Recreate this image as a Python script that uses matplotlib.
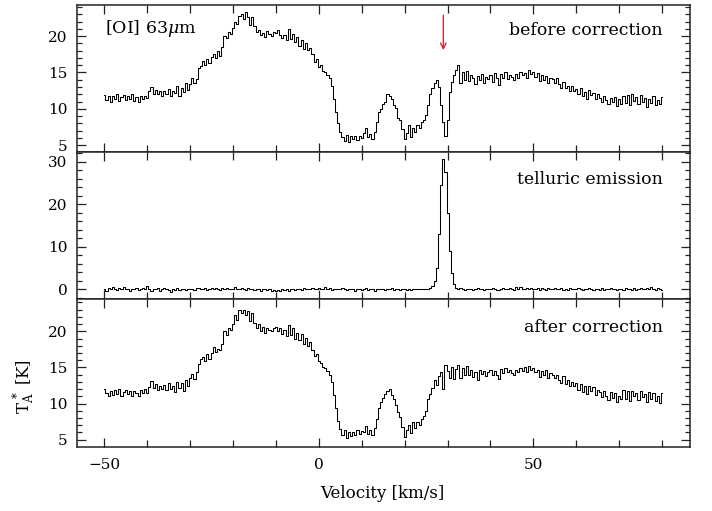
import numpy as np
import matplotlib
matplotlib.use('Agg')
import matplotlib.pyplot as plt
from matplotlib.ticker import MultipleLocator

# channel velocities (km/s), 0.5 km/s channels
velocity = np.arange(-50, 80.5, 0.5)

# [OI] 63um spectrum before correction (K)
before = [
    11.9, 11.2, 11.7, 11.0, 11.8, 11.3, 12.1, 11.1, 11.6, 11.9,
    11.2, 11.8, 11.3, 12.0, 11.1, 11.6, 10.9, 11.7, 11.3, 11.8,
    11.5, 12.4, 13.0, 12.1, 12.6, 12.0, 12.5, 11.8, 12.4, 12.1,
    12.7, 11.8, 12.5, 12.2, 13.1, 11.7, 12.8, 12.3, 13.5, 12.6,
    13.4, 14.3, 13.5, 14.1, 15.6, 15.9, 16.6, 16.0, 16.8, 16.3,
    17.2, 17.6, 17.0, 17.9, 17.3, 18.5, 20.0, 19.7, 20.6, 20.3,
    21.2, 22.0, 21.7, 22.8, 23.1, 22.4, 23.3, 22.6, 21.5, 22.7,
    21.4, 20.6, 20.9, 20.2, 20.5, 19.9, 20.7, 20.3, 20.0, 20.6,
    20.4, 20.8, 20.2, 19.7, 20.1, 19.5, 21.0, 19.6, 20.3, 19.2,
    19.9, 18.6, 19.5, 18.3, 19.0, 18.1, 18.4, 17.6, 16.5, 16.9,
    15.8, 16.1, 15.2, 15.0, 14.6, 14.2, 13.2, 11.4, 9.6, 8.0,
    6.8, 6.1, 5.6, 6.4, 5.4, 6.2, 5.8, 6.3, 5.7, 6.2,
    6.0, 6.6, 7.3, 6.1, 6.5, 5.9, 6.8, 8.2, 9.6, 10.0,
    10.6, 11.0, 12.1, 11.8, 11.4, 10.5, 10.1, 8.7, 8.4, 7.2,
    5.8, 6.6, 7.7, 6.1, 7.3, 6.8, 7.7, 7.3, 8.2, 8.4,
    9.1, 10.5, 12.1, 12.8, 13.5, 13.9, 13.0, 10.5, 8.2, 6.3,
    8.4, 12.3, 13.7, 14.6, 15.3, 16.0, 13.6, 15.1, 14.0, 15.2,
    13.8, 14.7, 14.2, 13.4, 14.5, 14.0, 14.8, 13.5, 14.4, 14.1,
    14.6, 13.7, 14.9, 14.2, 13.3, 14.8, 14.3, 15.0, 14.1, 14.7,
    14.4, 13.9, 14.8, 14.2, 15.1, 14.6, 14.9, 14.3, 15.3, 14.8,
    15.1, 14.4, 14.9, 13.8, 14.6, 14.0, 14.5, 13.6, 14.3, 14.1,
    13.5, 14.2, 13.4, 12.8, 13.7, 12.9, 13.1, 12.5, 13.2, 12.4,
    12.7, 12.0, 12.9, 11.7, 12.3, 11.4, 12.6, 11.9, 12.2, 11.3,
    12.0, 11.5, 11.0, 11.8, 11.2, 10.6, 11.5, 10.9, 11.6, 10.4,
    11.3, 10.6, 11.8, 10.8, 11.9, 10.5, 12.0, 11.1, 11.6, 10.7,
    11.9, 11.0, 11.5, 10.3, 11.4, 10.8, 11.7, 10.5, 11.2, 10.6,
    11.6,
]

# telluric emission spectrum (K)
telluric = [
    0.1, -0.3, 0.3, 0.0, 0.5, 0.1, -0.2, 0.3, 0.0, 0.5,
    0.2, 0.1, -0.3, 0.1, 0.2, 0.4, -0.2, 0.0, 0.3, 0.1,
    0.9, 0.0, -0.4, 0.1, 0.0, 0.3, -0.3, 0.1, 0.4, 0.0,
    -0.2, -0.6, 0.1, -0.1, 0.3, -0.2, 0.0, 0.2, -0.2, 0.2,
    0.0, 0.2, -0.2, 0.3, 0.4, 0.0, 0.1, 0.3, -0.2, 0.1,
    0.3, 0.0, 0.4, 0.1, -0.1, 0.3, 0.1, 0.4, 0.0, 0.2,
    0.2, 0.5, 0.0, 0.2, 0.4, 0.1, -0.2, 0.3, 0.0, 0.1,
    -0.2, 0.0, 0.2, -0.3, 0.0, 0.1, -0.2, 0.1, -0.3, -0.1,
    -0.4, -0.1, -0.3, 0.0, -0.2, 0.1, -0.3, 0.0, 0.1, -0.2,
    0.0, 0.2, -0.1, 0.3, 0.1, 0.0, 0.2, 0.4, 0.0, 0.1,
    0.3, 0.0, 0.1, 0.5, 0.1, 0.3, -0.1, 0.1, 0.2, 0.1,
    0.0, 0.3, 0.1, -0.2, 0.0, 0.2, 0.0, -0.3, 0.0, 0.1,
    -0.2, 0.0, 0.3, -0.1, 0.1, 0.0, -0.3, 0.1, 0.0, 0.2,
    0.0, -0.2, 0.1, 0.0, 0.3, -0.1, 0.0, 0.2, -0.2, 0.0,
    0.1, -0.1, 0.2, -0.2, 0.0, 0.1, 0.0, 0.2, 0.1, 0.0,
    0.1, 0.2, 0.3, 0.8, 2.0, 5.0, 13.0, 24.5, 30.6, 27.5,
    18.0, 9.0, 3.8, 1.3, 0.4, 0.0, 0.3, 0.1, -0.1, 0.2,
    0.1, 0.0, -0.2, 0.2, 0.3, 0.0, 0.1, -0.2, 0.0, 0.2,
    0.0, 0.3, 0.1, -0.1, -0.2, 0.1, 0.3, 0.0, 0.1, 0.4,
    0.2, -0.1, 0.5, 0.1, 0.6, 0.2, 0.0, 0.4, 0.1, 0.3,
    0.0, 0.1, 0.4, -0.1, 0.3, 0.1, -0.2, 0.3, 0.0, 0.1,
    0.3, 0.0, 0.1, 0.4, -0.1, 0.1, -0.2, 0.3, 0.0, 0.1,
    0.1, 0.3, 0.0, -0.2, 0.1, 0.0, 0.3, 0.1, -0.2, 0.0,
    0.1, -0.1, 0.3, -0.2, 0.0, 0.1, 0.4, 0.0, 0.1, -0.2,
    0.0, 0.1, -0.2, 0.3, 0.0, 0.2, -0.1, 0.3, -0.2, 0.1,
    0.3, 0.0, 0.1, 0.4, 0.0, 0.5, 0.1, -0.1, 0.4, 0.1,
    -0.2,
]

# spectrum after correction (K)
after = [
    12.0, 11.4, 11.1, 11.8, 11.2, 11.9, 11.3, 12.0, 11.0, 11.6,
    11.9, 11.3, 11.7, 11.1, 11.8, 11.4, 11.0, 11.9, 11.5, 12.0,
    11.4, 12.3, 13.1, 12.2, 12.7, 11.9, 12.4, 12.0, 12.6, 11.9,
    12.8, 12.0, 12.4, 11.6, 13.0, 12.1, 12.9, 11.8, 13.3, 12.5,
    13.6, 14.1, 13.4, 14.3, 15.5, 16.2, 16.4, 15.9, 16.9, 16.2,
    17.0, 17.8, 17.2, 17.6, 17.4, 18.3, 20.1, 19.5, 20.5, 20.2,
    21.0, 22.2, 21.6, 22.9, 22.5, 23.0, 22.3, 22.8, 21.4, 22.6,
    21.2, 20.5, 21.0, 20.1, 20.6, 19.8, 20.5, 20.2, 20.1, 20.4,
    20.6, 20.0, 20.5, 19.6, 20.2, 19.4, 20.9, 19.5, 20.4, 19.0,
    19.8, 18.8, 19.6, 18.2, 19.1, 17.9, 18.5, 17.4, 16.6, 16.8,
    15.9, 15.6, 15.1, 14.9, 14.5, 14.0, 13.0, 11.2, 9.4, 7.6,
    6.5, 5.7, 6.3, 5.2, 6.0, 5.5, 6.1, 5.6, 6.3, 5.8,
    6.2, 6.0, 6.9, 5.8, 6.4, 5.7, 6.6, 7.9, 9.4, 10.2,
    10.8, 11.3, 11.8, 12.0, 11.2, 10.6, 9.8, 8.9, 8.1, 6.8,
    5.4, 6.3, 7.1, 5.9, 7.5, 6.6, 7.4, 7.0, 7.8, 8.3,
    9.0, 10.6, 11.3, 12.1, 13.2, 12.6, 13.8, 14.4, 12.0, 15.3,
    14.5, 13.6, 15.0, 13.4, 14.8, 15.4, 13.5, 14.9, 13.9, 15.2,
    14.0, 14.6, 13.7, 14.4, 13.3, 14.7, 14.1, 14.5, 13.8, 14.3,
    14.7, 13.9, 14.5, 14.0, 13.4, 14.8, 14.2, 14.9, 14.4, 14.6,
    14.2, 14.0, 14.7, 14.3, 14.9, 14.5, 15.0, 14.4, 15.2, 14.6,
    14.9, 14.3, 14.7, 13.7, 14.5, 13.9, 14.6, 13.5, 14.2, 13.9,
    13.6, 14.0, 13.2, 12.9, 13.8, 12.7, 13.3, 12.4, 13.0, 12.5,
    12.9, 11.9, 12.7, 11.6, 12.5, 11.3, 12.4, 11.8, 12.3, 11.2,
    11.9, 11.6, 10.9, 11.7, 11.0, 10.5, 11.6, 10.8, 11.4, 10.2,
    11.1, 10.7, 11.9, 10.6, 11.7, 10.3, 11.8, 11.0, 11.5, 10.5,
    11.7, 10.9, 11.3, 10.2, 11.6, 10.7, 11.5, 10.4, 11.0, 10.1,
    11.4,
]

panel_text = ['before correction', 'telluric emission', 'after correction']
panel_ylim = [(4.08, 24.3), (-2.36, 32.36), (4.03, 24.4)]
panel_major = [5, 10, 5]
panel_minor = [1, 2, 1]

plt.rcParams['font.family'] = 'DejaVu Serif'
plt.rcParams['mathtext.fontset'] = 'dejavuserif'

fig = plt.figure(figsize=(7.12, 5.11), dpi=100)
left, width = 0.1086, 0.8605
bottoms = [0.7031, 0.4139, 0.1258]
heights = [0.2871, 0.2892, 0.2881]
text_y = [0.826, 0.815, 0.813]

axes = []
for i, spec in enumerate([before, telluric, after]):
    ax = fig.add_axes([left, bottoms[i], width, heights[i]])
    ax.plot(velocity, spec, drawstyle='steps-mid', color='black', lw=0.75)
    ax.set_xlim(-56.3, 86.5)
    ax.set_ylim(*panel_ylim[i])
    ax.xaxis.set_major_locator(MultipleLocator(50))
    ax.xaxis.set_minor_locator(MultipleLocator(10))
    ax.yaxis.set_major_locator(MultipleLocator(panel_major[i]))
    ax.yaxis.set_minor_locator(MultipleLocator(panel_minor[i]))
    ax.tick_params(which='both', direction='in', top=True, right=True,
                   labelsize=11, width=0.9, color='#222222')
    ax.tick_params(axis='x', which='major', length=6.8, pad=8)
    ax.tick_params(axis='x', which='minor', length=5.4)
    ax.tick_params(axis='y', which='major', length=6.7, pad=7)
    ax.tick_params(axis='y', which='minor', length=3.6)
    for sp in ax.spines.values():
        sp.set_linewidth(1.1)
        sp.set_color('#222222')
    ax.text(0.956, text_y[i], panel_text[i], transform=ax.transAxes,
            ha='right', va='center', fontsize=12.5)
    if i < 2:
        ax.tick_params(axis='x', labelbottom=False)
    axes.append(ax)

axes[0].text(0.045, 0.843, r'[OI] 63$\mu$m', transform=axes[0].transAxes,
             ha='left', va='center', fontsize=12.5)
# marker for the telluric line position
axes[0].annotate('', xy=(29.0, 18.1), xytext=(29.0, 22.9),
                 arrowprops=dict(arrowstyle='->', color='#e01020', lw=0.9,
                                 shrinkA=0, shrinkB=0))

axes[2].set_xlabel('Velocity [km/s]', fontsize=12)
axes[2].xaxis.set_label_coords(0.497, -0.26)
axes[2].set_ylabel(r'T$_{\rm A}^{\,*}$ [K]', fontsize=12)
axes[2].yaxis.set_label_coords(-0.066, 0.41)

fig.savefig('out.png', dpi=100)
